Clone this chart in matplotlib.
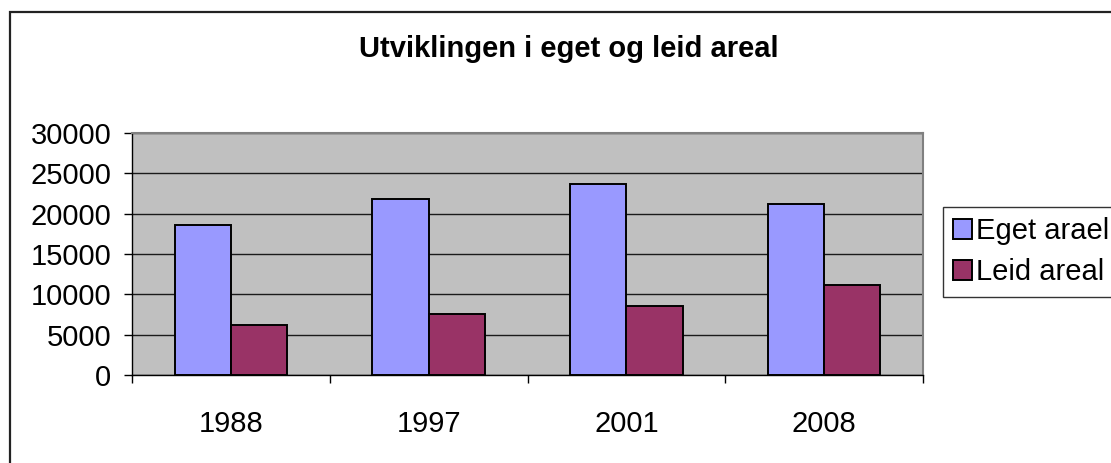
import matplotlib
matplotlib.use("Agg")
import matplotlib.pyplot as plt
from matplotlib.patches import Rectangle
import numpy as np

plt.rcParams['font.family'] = ['Liberation Sans', 'DejaVu Sans']

years = ['1988', '1997', '2001', '2008']
eget_areal = [18600, 21800, 23700, 21200]
leid_areal = [6200, 7600, 8500, 11100]

W, H = 1111, 463
fig = plt.figure(figsize=(W / 100, H / 100), dpi=100)
fig.patch.set_facecolor('white')

# outer chart border (right/bottom edges fall outside the picture)
fig.patches.append(Rectangle((10 / W, -0.2), 1.5, 1.2 - 12 / H,
                             transform=fig.transFigure, fill=False,
                             edgecolor='#222222', linewidth=1.6))

ax = fig.add_axes([132 / W, 1 - 375 / H, (923 - 132) / W, (375 - 133) / H])
ax.set_facecolor('#C0C0C0')

x = np.arange(len(years))
bw = 0.285
ax.bar(x - bw / 2, eget_areal, bw, color='#9999FF', edgecolor='black',
       linewidth=1.4, label='Eget arael', zorder=3)
ax.bar(x + bw / 2, leid_areal, bw, color='#993366', edgecolor='black',
       linewidth=1.4, label='Leid areal', zorder=3)

ax.set_xlim(-0.5, len(years) - 0.5)
ax.set_ylim(0, 30000)
ax.set_yticks(range(0, 30001, 5000))
ax.yaxis.grid(True, color='#1a1a1a', linewidth=1, zorder=1)
ax.set_axisbelow(True)

ax.set_xticks(x)
ax.set_xticklabels(years)
ax.set_xticks(np.arange(-0.5, len(years)), minor=True)
ax.tick_params(axis='x', which='major', length=0, pad=25, labelsize=21)
ax.tick_params(axis='x', which='minor', length=6, width=1, direction='out')
ax.tick_params(axis='y', length=6, width=1, direction='out', pad=9, labelsize=21)

for side in ['top', 'right']:
    ax.spines[side].set_color('#808080')
    ax.spines[side].set_linewidth(1.5)
for side in ['left', 'bottom']:
    ax.spines[side].set_color('black')
    ax.spines[side].set_linewidth(1)

fig.text(569 / W, 1 - 49 / H, 'Utviklingen i eget og leid areal',
         ha='center', va='center', fontsize=21, fontweight='bold')

leg = fig.legend(loc='upper left', bbox_to_anchor=(943 / W, 1 - 207 / H),
                 borderaxespad=0, fontsize=21, frameon=True, fancybox=False,
                 handlelength=0.65, handleheight=0.7, handletextpad=0.12,
                 labelspacing=0.45, borderpad=0.35)
leg.get_frame().set_edgecolor('black')
leg.get_frame().set_linewidth(1)

fig.savefig('out.png', dpi=100)
